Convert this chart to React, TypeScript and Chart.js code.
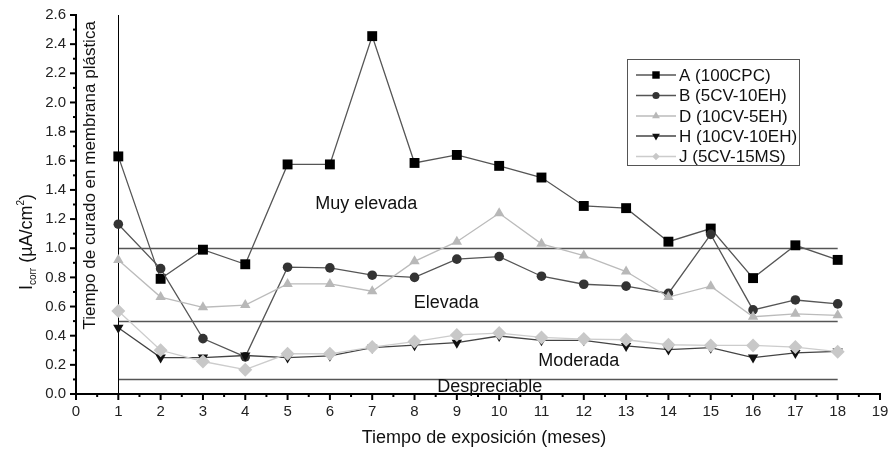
import React, { useEffect, useRef } from 'react';
import { Chart, registerables } from 'chart.js';

Chart.register(...registerables);

const months = [1, 2, 3, 4, 5, 6, 7, 8, 9, 10, 11, 12, 13, 14, 15, 16, 17, 18];
const seriesA = [1.63, 0.79, 0.99, 0.89, 1.575, 1.575, 2.455, 1.585, 1.64, 1.565, 1.485, 1.29, 1.275, 1.045, 1.135, 0.795, 1.02, 0.92];
const seriesB = [1.165, 0.86, 0.38, 0.255, 0.87, 0.865, 0.815, 0.80, 0.925, 0.943, 0.808, 0.753, 0.74, 0.69, 1.095, 0.577, 0.645, 0.618];
const seriesD = [0.92, 0.665, 0.595, 0.61, 0.755, 0.755, 0.705, 0.91, 1.045, 1.24, 1.03, 0.95, 0.84, 0.665, 0.74, 0.53, 0.55, 0.54];
const seriesH = [0.455, 0.25, 0.25, 0.264, 0.25, 0.262, 0.318, 0.335, 0.352, 0.398, 0.368, 0.368, 0.33, 0.305, 0.318, 0.25, 0.282, 0.292];
const seriesJ = [0.57, 0.30, 0.223, 0.167, 0.276, 0.276, 0.322, 0.36, 0.405, 0.418, 0.388, 0.377, 0.372, 0.338, 0.333, 0.333, 0.322, 0.29];
const seriesLabels = ['A (100CPC)', 'B (5CV-10EH)', 'D (10CV-5EH)', 'H (10CV-10EH)', 'J (5CV-15MS)'];
const levelLines = [1.0, 0.5, 0.1];
const zoneLabels = ['Muy elevada', 'Elevada', 'Moderada', 'Despreciable'];
const xTitle = 'Tiempo de exposición (meses)';
const sideNote = 'Tiempo de curado en membrana plástica';

const FONT = '"Liberation Sans", Arial, sans-serif';

type Style = { line: string; fill: string; shape: string; radius: number };
const styles: Style[] = [
  { line: '#555', fill: '#000', shape: 'rect', radius: 7 },
  { line: '#555', fill: '#333', shape: 'circle', radius: 4.8 },
  { line: '#bbb', fill: '#b8b8b8', shape: 'triangle', radius: 6 },
  { line: '#444', fill: '#111', shape: 'down', radius: 6 },
  { line: '#ccc', fill: '#c8c8c8', shape: 'rectRot', radius: 7 },
];

function drawMarker(ctx: CanvasRenderingContext2D, s: Style, x: number, y: number) {
  ctx.save();
  ctx.fillStyle = s.fill;
  ctx.beginPath();
  const r = s.radius;
  if (s.shape === 'rect') {
    const h = r * Math.SQRT1_2;
    ctx.rect(x - h, y - h, 2 * h, 2 * h);
  } else if (s.shape === 'circle') {
    ctx.arc(x, y, r, 0, Math.PI * 2);
  } else if (s.shape === 'triangle' || s.shape === 'down') {
    const a = s.shape === 'down' ? Math.PI : 0;
    for (let k = 0; k < 3; k++) {
      const ang = a + k * (2 * Math.PI / 3);
      const px = x + Math.sin(ang) * r;
      const py = y - Math.cos(ang) * r;
      if (k === 0) ctx.moveTo(px, py); else ctx.lineTo(px, py);
    }
    ctx.closePath();
  } else {
    const h = r * Math.SQRT1_2;
    ctx.moveTo(x, y - h);
    ctx.lineTo(x + h, y);
    ctx.lineTo(x, y + h);
    ctx.lineTo(x - h, y);
    ctx.closePath();
  }
  ctx.fill();
  ctx.restore();
}

const decorPlugin = {
  id: 'decor',
  beforeDatasetsDraw(chart: any) {
    const { ctx, scales } = chart;
    const xs = scales.x, ys = scales.y;
    ctx.save();
    ctx.strokeStyle = '#555';
    ctx.lineWidth = 1.3;
    levelLines.forEach((v) => {
      const py = Math.round(ys.getPixelForValue(v)) + 0.5;
      ctx.beginPath();
      ctx.moveTo(xs.getPixelForValue(1), py);
      ctx.lineTo(xs.getPixelForValue(18), py);
      ctx.stroke();
    });
    ctx.strokeStyle = '#000';
    ctx.lineWidth = 1;
    const vx = Math.round(xs.getPixelForValue(1)) + 0.5;
    ctx.beginPath();
    ctx.moveTo(vx, ys.getPixelForValue(0));
    ctx.lineTo(vx, ys.getPixelForValue(2.6));
    ctx.stroke();
    ctx.fillStyle = '#111';
    ctx.font = `18px ${FONT}`;
    ctx.textAlign = 'center';
    ctx.textBaseline = 'middle';
    const pos = [[6.86, 1.3], [8.75, 0.625], [11.88, 0.225], [9.78, 0.05]];
    zoneLabels.forEach((t, i) => {
      ctx.fillText(t, xs.getPixelForValue(pos[i][0]), ys.getPixelForValue(pos[i][1]));
    });
    ctx.save();
    ctx.translate(xs.getPixelForValue(0.34), ys.getPixelForValue(1.5));
    ctx.rotate(-Math.PI / 2);
    ctx.font = `17px ${FONT}`;
    ctx.fillText(sideNote, 0, 0);
    ctx.restore();
    ctx.restore();
  },
  afterDraw(chart: any) {
    const { ctx, scales, chartArea } = chart;
    const xs = scales.x, ys = scales.y;
    ctx.save();
    ctx.strokeStyle = '#000';
    ctx.lineWidth = 2;
    for (let i = 0; i <= 26; i++) {
      const py = ys.getPixelForValue(i / 10);
      const len = i % 2 === 0 ? 6 : 3;
      ctx.beginPath();
      ctx.moveTo(chartArea.left - len, py);
      ctx.lineTo(chartArea.left, py);
      ctx.stroke();
    }
    for (let i = 0; i <= 38; i++) {
      const px = xs.getPixelForValue(i / 2);
      const len = i % 2 === 0 ? 6 : 3;
      ctx.beginPath();
      ctx.moveTo(px, chartArea.bottom);
      ctx.lineTo(px, chartArea.bottom + len);
      ctx.stroke();
    }
    ctx.fillStyle = '#111';
    ctx.font = `18px ${FONT}`;
    ctx.textAlign = 'center';
    ctx.textBaseline = 'middle';
    ctx.fillText(xTitle, (chartArea.left + chartArea.right) / 2 + 6, 438);
    ctx.save();
    ctx.translate(26, 242);
    ctx.rotate(-Math.PI / 2);
    ctx.textAlign = 'left';
    ctx.textBaseline = 'alphabetic';
    const big = `18px ${FONT}`, small = `10px ${FONT}`;
    const parts: [string, string, number][] = [
      ['I', big, 0], ['corr', small, 4], [' (\u00B5A/cm', big, 0], ['2', small, -8], [')', big, 0],
    ];
    let total = 0;
    parts.forEach(([t, f]) => { ctx.font = f; total += ctx.measureText(t).width; });
    let cx = -total / 2;
    parts.forEach(([t, f, dy]) => {
      ctx.font = f;
      ctx.fillText(t, cx, 6 + dy);
      cx += ctx.measureText(t).width;
    });
    ctx.restore();
    const lx = 627, ly = 59, lw = 172, lh = 106;
    ctx.fillStyle = '#fff';
    ctx.fillRect(lx, ly, lw, lh);
    ctx.strokeStyle = '#555';
    ctx.lineWidth = 1;
    ctx.strokeRect(lx + 0.5, ly + 0.5, lw, lh);
    const rows = [75, 95.5, 116, 136, 156.5];
    seriesLabels.forEach((lab, i) => {
      const s = styles[i];
      const y = rows[i];
      ctx.strokeStyle = s.line;
      ctx.lineWidth = 1.3;
      ctx.beginPath();
      ctx.moveTo(636, y);
      ctx.lineTo(676, y);
      ctx.stroke();
      drawMarker(ctx, { ...s, radius: s.radius * 0.75 }, 656, y);
      ctx.fillStyle = '#111';
      ctx.font = `17px ${FONT}`;
      ctx.textAlign = 'left';
      ctx.textBaseline = 'middle';
      ctx.fillText(lab, 679, y + 1);
    });
    ctx.restore();
  },
};

function mkDataset(label: string, values: number[], s: Style) {
  const shape = s.shape === 'down' ? 'triangle' : s.shape;
  return {
    label,
    data: months.map((m, i) => ({ x: m, y: values[i] })),
    borderColor: s.line,
    borderWidth: 1.3,
    backgroundColor: s.fill,
    pointBackgroundColor: s.fill,
    pointBorderColor: s.fill,
    pointBorderWidth: 0,
    pointStyle: shape,
    pointRotation: s.shape === 'down' ? 180 : 0,
    pointRadius: s.radius,
    tension: 0,
    fill: false,
  };
}

export default function App() {
  const ref = useRef<HTMLCanvasElement | null>(null);
  useEffect(() => {
    if (!ref.current) return;
    const chart = new Chart(ref.current, {
      type: 'line',
      data: {
        datasets: [
          mkDataset(seriesLabels[4], seriesJ, styles[4]),
          mkDataset(seriesLabels[3], seriesH, styles[3]),
          mkDataset(seriesLabels[2], seriesD, styles[2]),
          mkDataset(seriesLabels[1], seriesB, styles[1]),
          mkDataset(seriesLabels[0], seriesA, styles[0]),
        ],
      },
      options: {
        responsive: false,
        animation: false,
        layout: { padding: { left: 0, top: 15, right: 9, bottom: 0 } },
        plugins: { legend: { display: false }, tooltip: { enabled: false } },
        scales: {
          x: {
            type: 'linear',
            min: 0,
            max: 19,
            afterFit: (s: any) => { s.height = 58; s.paddingRight = 0; s.paddingLeft = 0; },
            grid: { display: false, drawTicks: false },
            border: { display: true, color: '#000', width: 2 },
            ticks: {
              stepSize: 1,
              padding: 9,
              color: '#222',
              font: { family: '"Liberation Sans Narrow", "Liberation Sans", Arial, sans-serif', size: 15 },
              maxRotation: 0,
              autoSkip: false,
            },
          },
          y: {
            type: 'linear',
            min: 0,
            max: 2.6,
            afterFit: (s: any) => { s.width = 76; s.paddingTop = 0; s.paddingBottom = 0; },
            grid: { display: false, drawTicks: false },
            border: { display: true, color: '#000', width: 2 },
            ticks: {
              stepSize: 0.2,
              padding: 10,
              color: '#222',
              font: { family: FONT, size: 15 },
              callback: (v: any) => Number(v).toFixed(1),
            },
          },
        },
      },
      plugins: [decorPlugin],
    } as any);
    return () => chart.destroy();
  }, []);
  return (
    <div style={{ position: 'absolute', left: 0, top: 0, width: 889, height: 452, background: '#fff' }}>
      <canvas ref={ref} width={889} height={452} style={{ width: 889, height: 452 }} />
    </div>
  );
}
